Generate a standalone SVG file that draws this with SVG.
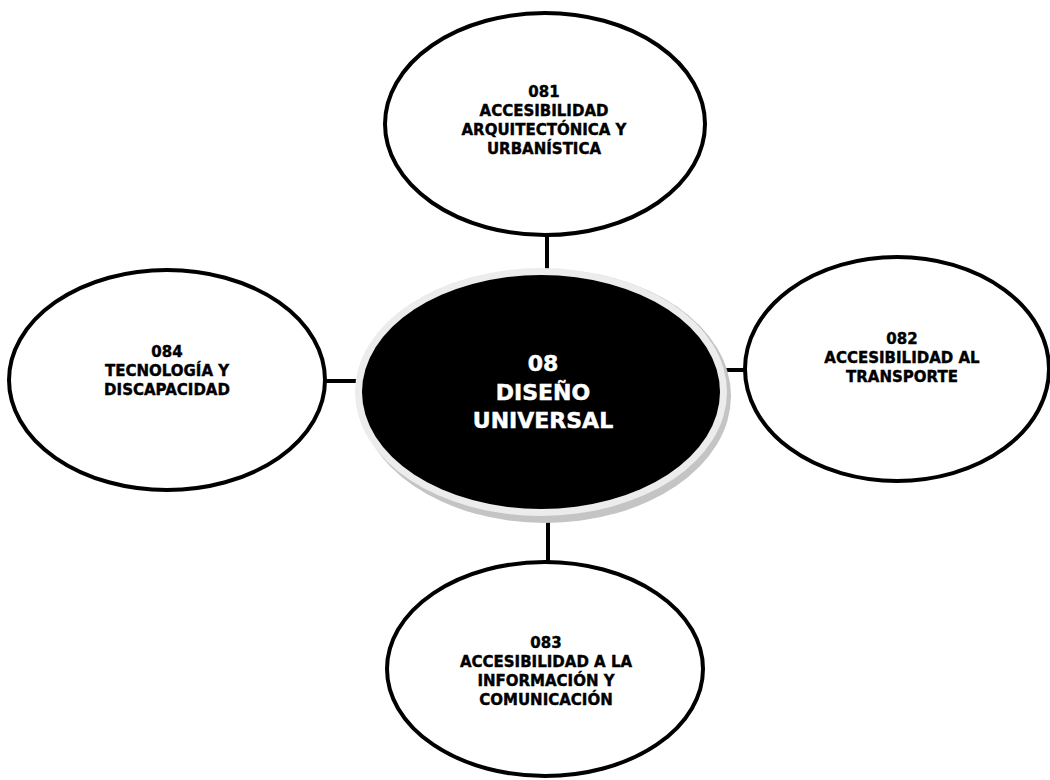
<svg xmlns="http://www.w3.org/2000/svg" width="1050" height="780" viewBox="0 0 1050 780">
<style>
.node{fill:#ffffff;stroke:#000000;stroke-width:4}
.lbl{font-family:"DejaVu Sans","Verdana",sans-serif;font-weight:bold;font-size:15px;fill:#000000;stroke:#000000;stroke-width:0.4;text-anchor:middle}
.ctr{font-family:"DejaVu Sans","Verdana",sans-serif;font-weight:bold;font-size:22px;fill:#ffffff;stroke:#ffffff;stroke-width:0.5;text-anchor:middle}
.conn{stroke:#000000;stroke-width:4;fill:none}
</style>
<rect width="1050" height="780" fill="#ffffff"/>
<g id="connectors">
<line class="conn" x1="547" y1="236" x2="547" y2="270"/>
<line class="conn" x1="548" y1="520" x2="548" y2="564"/>
<line class="conn" x1="323" y1="381" x2="357" y2="381"/>
<line class="conn" x1="726" y1="370" x2="747" y2="370"/>
</g>
<g id="center">
<ellipse cx="545" cy="396" rx="186" ry="127" fill="#c4c4c4"/>
<ellipse cx="541" cy="392" rx="186" ry="124" fill="#ececec"/>
<ellipse cx="541" cy="392" rx="179" ry="117" fill="#000000"/>
<text class="ctr" x="543" y="371">08</text>
<text class="ctr" x="543" y="400">DISEÑO</text>
<text class="ctr" x="543" y="428">UNIVERSAL</text>
</g>
<g id="n081">
<ellipse class="node" cx="545" cy="124" rx="160" ry="111"/>
<text class="lbl" x="544" y="97">081</text>
<text class="lbl" x="544" y="116">ACCESIBILIDAD</text>
<text class="lbl" x="544" y="135">ARQUITECTÓNICA Y</text>
<text class="lbl" x="544" y="154">URBANÍSTICA</text>
</g>
<g id="n082">
<ellipse class="node" cx="897" cy="369" rx="152" ry="112"/>
<text class="lbl" x="902" y="344">082</text>
<text class="lbl" x="902" y="363">ACCESIBILIDAD AL</text>
<text class="lbl" x="902" y="382">TRANSPORTE</text>
</g>
<g id="n083">
<ellipse class="node" cx="545" cy="669" rx="158" ry="107"/>
<text class="lbl" x="546" y="648">083</text>
<text class="lbl" x="546" y="667">ACCESIBILIDAD A LA</text>
<text class="lbl" x="546" y="686">INFORMACIÓN Y</text>
<text class="lbl" x="546" y="705">COMUNICACIÓN</text>
</g>
<g id="n084">
<ellipse class="node" cx="167" cy="380" rx="158" ry="110"/>
<text class="lbl" x="167" y="357">084</text>
<text class="lbl" x="167" y="376">TECNOLOGÍA Y</text>
<text class="lbl" x="167" y="395">DISCAPACIDAD</text>
</g>
</svg>
